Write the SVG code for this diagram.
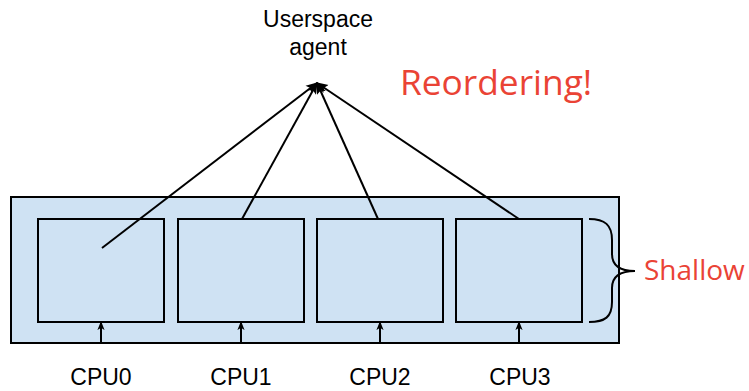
<svg xmlns="http://www.w3.org/2000/svg" width="749" height="391" viewBox="0 0 749 391">
  <style>
    .panel { fill: #cfe2f3; stroke: #000; stroke-width: 2; }
    .conn { stroke: #000; stroke-width: 2; fill: none; }
    .label { font-family: "Liberation Sans", Arial, sans-serif; font-size: 23px; fill: #000; text-anchor: middle; }
    .red { font-family: "Open Sans", "Liberation Sans", sans-serif; fill: #ea4335; }
  </style>
  <defs>
    <marker id="arrow" viewBox="0 0 10 10" refX="9" refY="5" markerWidth="9" markerHeight="9" orient="auto" markerUnits="userSpaceOnUse">
      <path d="M0,1 L10,5 L0,9 L2.5,5 Z" fill="#000"/>
    </marker>
    <marker id="arrowBig" viewBox="0 0 10 10" refX="9" refY="5" markerWidth="12" markerHeight="12" orient="auto" markerUnits="userSpaceOnUse">
      <path d="M0,1 L10,5 L0,9 L2,5 Z" fill="#000"/>
    </marker>
  </defs>

  <g id="system">
    <rect class="panel" x="11" y="197" width="608" height="146"/>
  </g>
  <g id="cpu0"><rect class="panel" x="38" y="219" width="126" height="103"/><text class="label" x="101" y="385">CPU0</text></g>
  <g id="cpu1"><rect class="panel" x="178" y="219" width="126" height="103"/><text class="label" x="241" y="385">CPU1</text></g>
  <g id="cpu2"><rect class="panel" x="317" y="219" width="126" height="103"/><text class="label" x="380" y="385">CPU2</text></g>
  <g id="cpu3"><rect class="panel" x="456" y="219" width="126" height="103"/><text class="label" x="520" y="385">CPU3</text></g>

  <g id="agent">
    <text class="label" x="318" y="27">Userspace</text>
    <text class="label" x="318" y="55">agent</text>
  </g>

  <g id="reordering">
    <text class="red" x="400" y="95" font-size="35.3">Reordering!</text>
  </g>

  <g id="shallow">
    <path class="conn" d="M589,219 C605,219 612,225 612,240 L612,254 C612,266 620,271 635,271 C620,271 612,276 612,288 L612,302 C612,317 605,322 589,322"/>
    <text class="red" x="644" y="280" font-size="28">Shallow</text>
  </g>

  <g id="connectors">
    <line class="conn" x1="102" y1="248" x2="317" y2="83" marker-end="url(#arrowBig)"/>
    <line class="conn" x1="242" y1="219" x2="317" y2="83" marker-end="url(#arrowBig)"/>
    <line class="conn" x1="378" y1="219" x2="317" y2="83" marker-end="url(#arrowBig)"/>
    <line class="conn" x1="519" y1="219" x2="317" y2="83" marker-end="url(#arrowBig)"/>
    <line class="conn" x1="101" y1="343" x2="101" y2="322" marker-end="url(#arrow)"/>
    <line class="conn" x1="241" y1="343" x2="241" y2="322" marker-end="url(#arrow)"/>
    <line class="conn" x1="380" y1="343" x2="380" y2="322" marker-end="url(#arrow)"/>
    <line class="conn" x1="519" y1="343" x2="519" y2="322" marker-end="url(#arrow)"/>
  </g>
</svg>
